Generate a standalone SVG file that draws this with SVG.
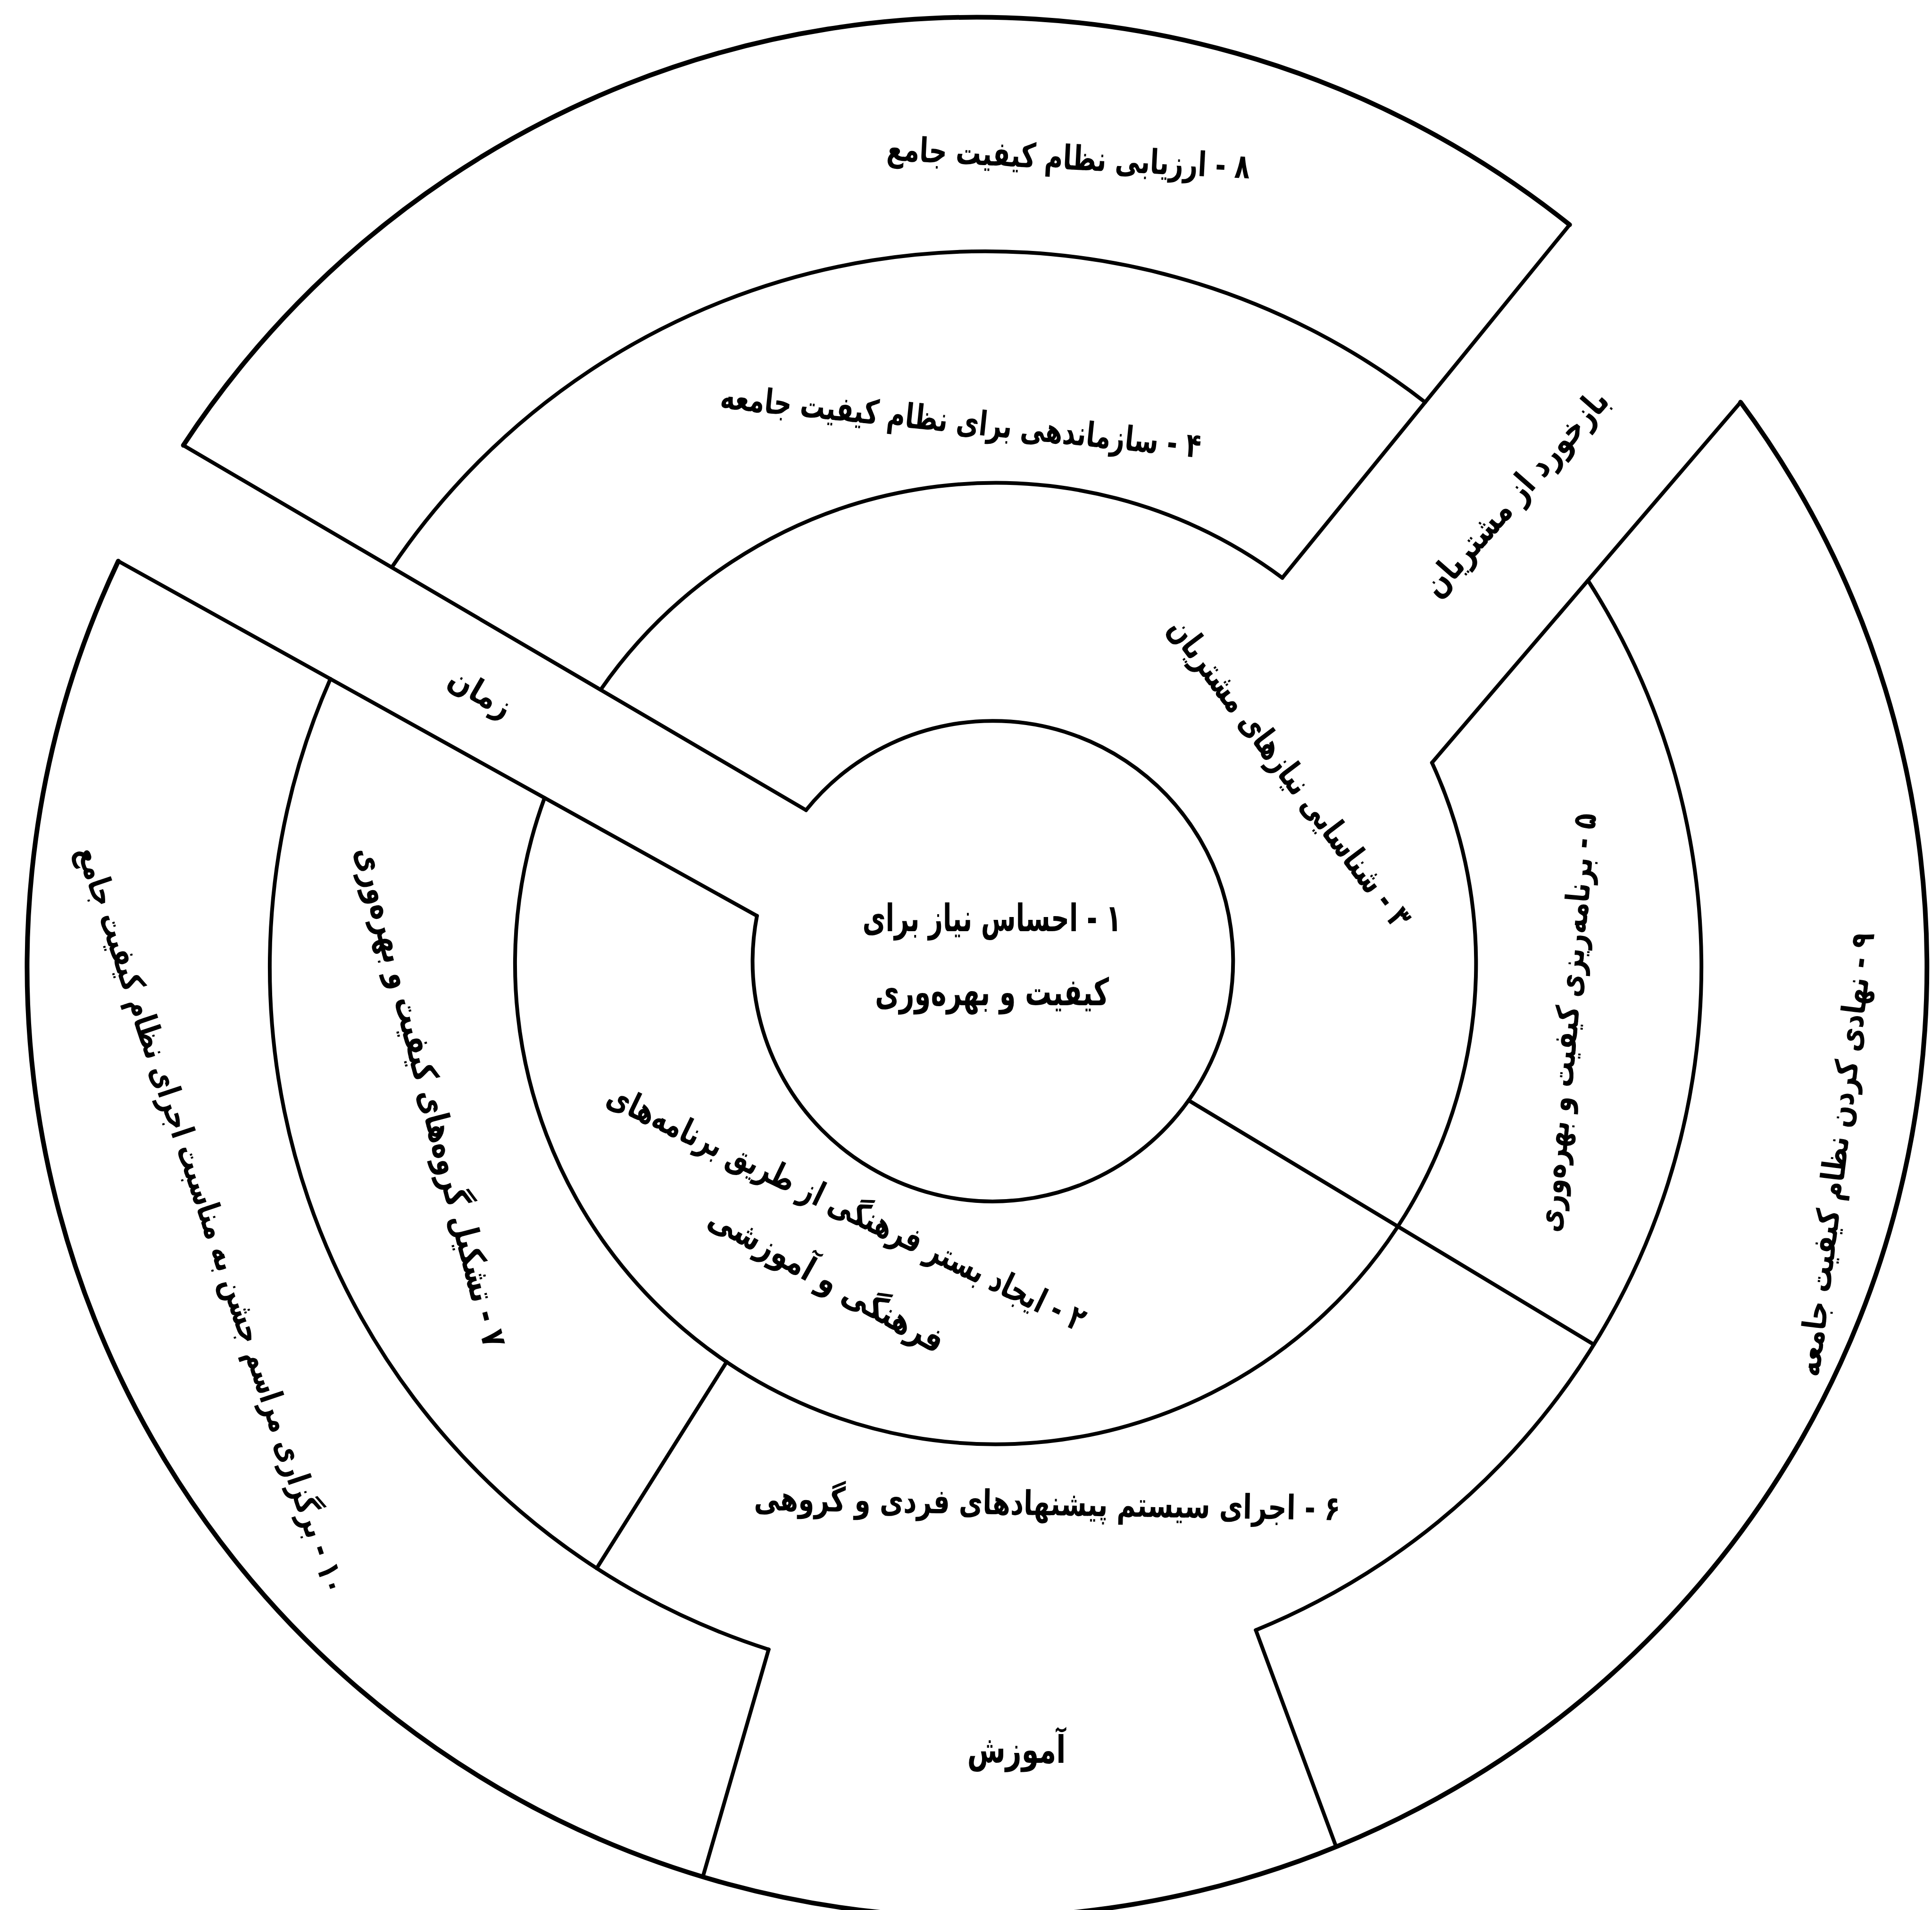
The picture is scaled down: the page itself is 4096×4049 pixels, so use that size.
<svg xmlns="http://www.w3.org/2000/svg" width="4096" height="4049" viewBox="0 0 4096 4049">
<style>
.ln{fill:none;stroke:#000;stroke-width:8;stroke-linecap:round;stroke-linejoin:round}
.ot{stroke-width:10}
.lb{font-family:'DejaVu Sans','Noto Sans',sans-serif;font-weight:bold;fill:#000;text-anchor:middle;dominant-baseline:central;direction:rtl}
</style>
<rect width="4096" height="4049" fill="#fff"/>
<g id="connectors">
<path class="ln ot" d="M388.7 944.0 A2013.9 2013.9 0 0 1 3327.7 476.4"/>
<path class="ln ot" d="M3690.2 852.6 A2013.9 2013.9 0 1 1 250.8 1189.5"/>
<path class="ln" d="M830.6 1202.8 A1517.6 1517.6 0 0 1 3021.6 852.8"/>
<path class="ln" d="M3366.6 1230.5 A1517.6 1517.6 0 0 1 2662.4 3455.7"/>
<path class="ln" d="M1629.6 3496.7 A1517.6 1517.6 0 0 1 700.5 1439.2"/>
<path class="ln" d="M1273.4 1462.2 A1018.7 1018.7 0 0 1 2718.6 1225.0"/>
<path class="ln" d="M3035.9 1616.8 A1018.7 1018.7 0 1 1 1154.5 1691.5"/>
<path class="ln" d="M1708.8 1717.4 A509.3 509.3 0 1 1 1604.8 1941.5"/>
<path class="ln" d="M388.7 944.0 L1708.8 1717.4"/>
<path class="ln" d="M250.8 1189.5 L1604.8 1941.5"/>
<path class="ln" d="M3327.7 476.4 L2718.6 1225.0"/>
<path class="ln" d="M3690.2 852.6 L3035.9 1616.8"/>
<path class="ln" d="M2520.1 2332.8 L3379.1 2850.2"/>
<path class="ln" d="M1540.6 2887.0 L1265.0 3324.6"/>
<path class="ln" d="M1629.6 3496.7 L1490.1 3978.6"/>
<path class="ln" d="M2662.4 3455.7 L2832.7 3914.9"/>
</g>
<g id="node1">
<text class="lb" font-size="80" transform="translate(2103,1946)" textLength="549" lengthAdjust="spacingAndGlyphs">۱ - احساس نیاز برای</text>
<text class="lb" font-size="80" transform="translate(2103,2103)" textLength="496" lengthAdjust="spacingAndGlyphs">کیفیت و بهره‌وری</text>
</g>
<g id="node2">
<text class="lb" font-size="72" transform="translate(1795,2560) rotate(25.7)" textLength="1116" lengthAdjust="spacingAndGlyphs">۲ - ایجاد بستر فرهنگی از طریق برنامه‌های</text>
<text class="lb" font-size="72" transform="translate(1753,2712) rotate(29.3)" textLength="560" lengthAdjust="spacingAndGlyphs">فرهنگی و آموزشی</text>
</g>
<g id="node3">
<text class="lb" font-size="72" transform="translate(2735,1638) rotate(52.9)" textLength="802" lengthAdjust="spacingAndGlyphs">۳ - شناسایی نیازهای مشتریان</text>
</g>
<g id="node4">
<text class="lb" font-size="72" transform="translate(2037,893) rotate(5.9)" textLength="1024" lengthAdjust="spacingAndGlyphs">۴ - سازماندهی برای نظام کیفیت جامعه</text>
</g>
<g id="node5">
<text class="lb" font-size="68" transform="translate(3322,2168) rotate(-85)" textLength="891" lengthAdjust="spacingAndGlyphs">۵ - برنامه‌ریزی کیفیت و بهره‌وری</text>
</g>
<g id="node6">
<text class="lb" font-size="72" transform="translate(2220,3187) rotate(1)" textLength="1243" lengthAdjust="spacingAndGlyphs">۶ - اجرای سیستم پیشنهادهای فردی و گروهی</text>
</g>
<g id="node7">
<text class="lb" font-size="72" transform="translate(914,2325) rotate(75.5)" textLength="1093" lengthAdjust="spacingAndGlyphs">۷ - تشکیل گروه‌های کیفیت و بهره‌وری</text>
</g>
<g id="node8">
<text class="lb" font-size="72" transform="translate(2265,334) rotate(2.9)" textLength="771" lengthAdjust="spacingAndGlyphs">۸ - ارزیابی نظام کیفیت جامع</text>
</g>
<g id="node9">
<text class="lb" font-size="68" transform="translate(3892,2447) rotate(-82.9)" textLength="948" lengthAdjust="spacingAndGlyphs">۹ - نهادی کردن نظام کیفیت جامعه</text>
</g>
<g id="node10">
<text class="lb" font-size="68" transform="translate(449,2586) rotate(71.5)" textLength="1667" lengthAdjust="spacingAndGlyphs">۱۰ - برگزاری مراسم جشن به مناسبت اجرای نظام کیفیت جامع</text>
</g>
<g id="amuzesh">
<text class="lb" font-size="80" transform="translate(2155,3709)" textLength="209" lengthAdjust="spacingAndGlyphs">آموزش</text>
</g>
<g id="zaman">
<text class="lb" font-size="68" transform="translate(1019,1468) rotate(30)" textLength="144" lengthAdjust="spacingAndGlyphs">زمان</text>
</g>
<g id="bazkhord">
<text class="lb" font-size="72" transform="translate(3213,1045) rotate(-48.8)" textLength="556" lengthAdjust="spacingAndGlyphs">بازخورد از مشتریان</text>
</g>
</svg>
